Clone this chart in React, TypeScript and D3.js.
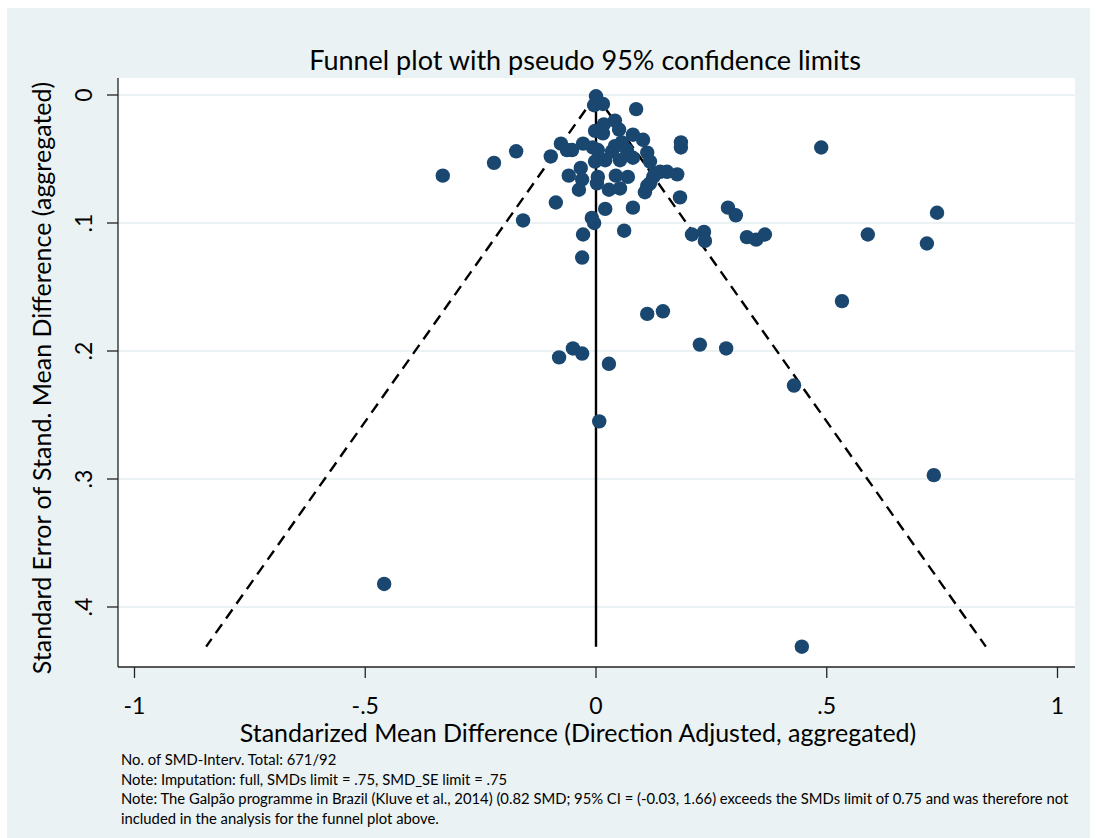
import * as d3 from 'd3'

// study estimates: standardized mean difference (x) and its standard error (y)
const smd = [
  0.0, -0.004, 0.015, 0.087, 0.041, 0.017, 0.05, -0.002, 0.015, 0.08,
  0.102, 0.056, 0.184, 0.184, -0.076, -0.028, -0.052, -0.063, -0.007, 0.035,
  0.067, 0.111, -0.098, -0.173, -0.221, -0.332, -0.002, 0.02, 0.052, 0.08,
  0.117, -0.033, -0.059, 0.004, 0.043, 0.069, -0.03, -0.037, 0.002, 0.028,
  0.052, 0.106, 0.117, 0.124, 0.139, 0.154, 0.176, 0.182, -0.087, 0.02,
  0.08, -0.158, -0.009, -0.004, -0.028, 0.061, -0.03, 0.286, 0.303, 0.208,
  0.234, 0.236, 0.327, 0.347, 0.366, 0.589, 0.717, 0.739, 0.488, 0.533,
  0.111, 0.145, 0.225, 0.282, -0.08, -0.05, -0.03, 0.028, 0.007, 0.429,
  0.732, -0.459, 0.446, 0.111, 0.128, 0.041, 0.004,
]
const se = [
  0.001, 0.008, 0.007, 0.011, 0.02, 0.023, 0.027, 0.028, 0.03, 0.031,
  0.035, 0.037, 0.037, 0.041, 0.038, 0.038, 0.043, 0.043, 0.041, 0.044,
  0.043, 0.045, 0.048, 0.044, 0.053, 0.063, 0.052, 0.051, 0.051, 0.049,
  0.052, 0.057, 0.063, 0.064, 0.063, 0.064, 0.066, 0.074, 0.069, 0.074,
  0.073, 0.076, 0.069, 0.064, 0.06, 0.06, 0.062, 0.08, 0.084, 0.089,
  0.088, 0.098, 0.096, 0.1, 0.109, 0.106, 0.127, 0.088, 0.094, 0.109,
  0.107, 0.114, 0.111, 0.113, 0.109, 0.109, 0.116, 0.092, 0.041, 0.161,
  0.171, 0.169, 0.195, 0.198, 0.205, 0.198, 0.202, 0.21, 0.255, 0.227,
  0.297, 0.382, 0.431, 0.071, 0.061, 0.04, 0.043,
]

const xTicks = [-1, -0.5, 0, 0.5, 1]
const xTickLabels = ['-1', '-.5', '0', '.5', '1']
const yTicks = [0, 0.1, 0.2, 0.3, 0.4]
const yTickLabels = ['0', '.1', '.2', '.3', '.4']

const notes = [
  'No. of SMD-Interv. Total: 671/92',
  'Note: Imputation: full, SMDs limit = .75, SMD_SE limit = .75',
  'Note: The Galpão programme in Brazil (Kluve et al., 2014) (0.82 SMD; 95% CI = (-0.03, 1.66) exceeds the SMDs limit of 0.75 and was therefore not',
  'included in the analysis for the funnel plot above.',
]

const W = 1096
const H = 838
const plot = { left: 118, right: 1075, top: 78, bottom: 667 }
const font = 'Lato, Carlito, Calibri, sans-serif'
const navy = '#1a476f'
const grid = '#eaf2f3'

export default function App() {
  const x = d3.scaleLinear().domain([-1, 1]).range([134.5, 1057.5])
  const y = d3.scaleLinear().domain([0, 0.4]).range([95, 607])

  const points = smd.map((v, i) => ({ smd: v, se: se[i] }))
  const maxSe = d3.max(se) ?? 0
  const z = 1.96

  const limit = d3.line<[number, number]>()
    .x(d => x(d[0]))
    .y(d => y(d[1]))

  return (
    <div style={{ position: 'absolute', left: 0, top: 0 }}>
      <svg width={W} height={H} style={{ display: 'block', background: '#fff' }}>
        <rect x={7} y={8} width={1083} height={830} fill={grid} />
        <rect x={plot.left} y={plot.top} width={plot.right - plot.left} height={plot.bottom - plot.top} fill="#fff" />

        {/* gridlines */}
        {yTicks.map(t => (
          <line key={'g' + t} x1={plot.left} x2={plot.right} y1={y(t)} y2={y(t)} stroke={grid} strokeWidth={2} />
        ))}

        {/* funnel limits */}
        <path
          d={limit([[0, 0], [-z * maxSe, maxSe]]) ?? ''}
          fill="none" stroke="#000" strokeWidth={2.4} strokeDasharray="11 7"
        />
        <path
          d={limit([[0, 0], [z * maxSe, maxSe]]) ?? ''}
          fill="none" stroke="#000" strokeWidth={2.4} strokeDasharray="11 7"
        />
        <line x1={x(0)} x2={x(0)} y1={y(0)} y2={y(maxSe)} stroke="#000" strokeWidth={2.4} />

        {/* studies */}
        {points.map((p, i) => (
          <circle key={i} cx={x(p.smd)} cy={y(p.se)} r={7.2} fill={navy} />
        ))}

        {/* axes */}
        <line x1={plot.left} x2={plot.left} y1={plot.top} y2={plot.bottom} stroke="#222" strokeWidth={1.3} />
        <line x1={plot.left} x2={plot.right} y1={plot.bottom} y2={plot.bottom} stroke="#222" strokeWidth={1.3} />
        {yTicks.map((t, i) => (
          <g key={'y' + t}>
            <line x1={plot.left - 11} x2={plot.left} y1={y(t)} y2={y(t)} stroke="#222" strokeWidth={1.3} />
            <text
              transform={`translate(${92},${y(t)}) rotate(-90)`}
              textAnchor="middle" fontFamily={font} fontSize={23} fill="#000"
            >
              {yTickLabels[i]}
            </text>
          </g>
        ))}
        {xTicks.map((t, i) => (
          <g key={'x' + t}>
            <line x1={x(t)} x2={x(t)} y1={plot.bottom} y2={plot.bottom + 11} stroke="#222" strokeWidth={1.3} />
            <text x={x(t)} y={714} textAnchor="middle" fontFamily={font} fontSize={23} fill="#000">
              {xTickLabels[i]}
            </text>
          </g>
        ))}

        <text x={585} y={70} textAnchor="middle" fontFamily={font} fontSize={27} fill="#000">
          Funnel plot with pseudo 95% confidence limits
        </text>
        <text x={578} y={742} textAnchor="middle" fontFamily={font} fontSize={25} fill="#000">
          Standarized Mean Difference (Direction Adjusted, aggregated)
        </text>
        <text
          transform={`translate(${51},${378}) rotate(-90)`}
          textAnchor="middle" fontFamily={font} fontSize={25} fill="#000"
        >
          Standard Error of Stand. Mean Difference (aggregated)
        </text>

        {notes.map((n, i) => (
          <text key={'n' + i} x={121} y={765 + i * 19.7} fontFamily={font} fontSize={14.8} fill="#000">
            {n}
          </text>
        ))}
      </svg>
    </div>
  )
}
